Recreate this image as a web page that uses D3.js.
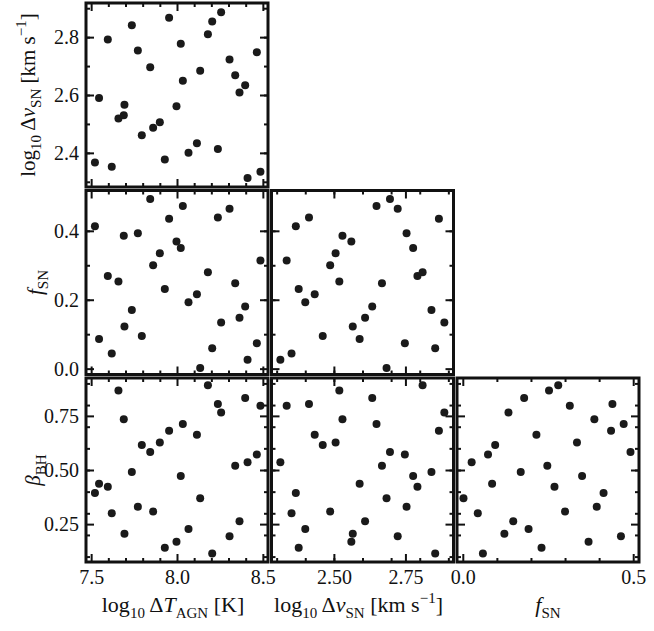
<!DOCTYPE html>
<html>
<head>
<meta charset="utf-8">
<script src="https://cdn.jsdelivr.net/npm/d3@7"></script>
<style>
  body { margin: 0; background: #fff; }
  svg { display: block; }
  text { font-family: "Liberation Serif", "DejaVu Serif", serif; fill: #111; }
</style>
</head>
<body>
<svg id="chart" width="654" height="631"></svg>
<script>
'use strict';

// 32 sample points of the 4 parameters (same point order in every array)
const dT = [7.522, 7.546, 7.597, 7.620, 7.659, 7.690, 7.694, 7.737, 7.772, 7.795, 7.844,
  7.861, 7.900, 7.929, 7.954, 7.997, 8.022, 8.034, 8.067, 8.116, 8.135, 8.180,
  8.205, 8.238, 8.257, 8.306, 8.339, 8.364, 8.397, 8.411, 8.465, 8.486];
const dv = [2.367, 2.590, 2.792, 2.352, 2.519, 2.530, 2.566, 2.841, 2.754, 2.461, 2.696,
  2.487, 2.506, 2.377, 2.867, 2.561, 2.777, 2.649, 2.400, 2.433, 2.684, 2.810,
  2.854, 2.413, 2.886, 2.723, 2.668, 2.609, 2.634, 2.313, 2.748, 2.335];
const fSN = [0.413, 0.086, 0.269, 0.044, 0.253, 0.386, 0.122, 0.170, 0.393, 0.095, 0.492,
  0.300, 0.335, 0.231, 0.435, 0.369, 0.350, 0.472, 0.193, 0.216, 0.002, 0.280,
  0.059, 0.439, 0.134, 0.464, 0.248, 0.148, 0.180, 0.026, 0.074, 0.314];
const beta = [0.394, 0.436, 0.423, 0.300, 0.867, 0.734, 0.205, 0.491, 0.330, 0.616, 0.583,
  0.308, 0.627, 0.141, 0.681, 0.169, 0.472, 0.713, 0.228, 0.663, 0.370, 0.891,
  0.114, 0.805, 0.766, 0.194, 0.520, 0.263, 0.833, 0.536, 0.572, 0.797];

// axis limits and ticks per parameter
const domains = [[7.47, 8.53], [2.282, 2.918], [-0.017, 0.517], [0.075, 0.925]];
const xMajor = [[7.5, 8.0, 8.5], [2.5, 2.75], [0.0, 0.5]];
const yMajor = [null, [2.4, 2.6, 2.8], [0.0, 0.2, 0.4], [0.25, 0.5, 0.75]];
const minorTicks = [
  [7.6, 7.7, 7.8, 7.9, 8.1, 8.2, 8.3, 8.4],
  [2.3, 2.4, 2.5, 2.6, 2.7, 2.8, 2.9],
  [0.1, 0.2, 0.3, 0.4],
  [0.1, 0.2, 0.3, 0.4, 0.5, 0.6, 0.7, 0.8, 0.9]
];
const xFormats = [d3.format('.1f'), d3.format('.2f'), d3.format('.1f')];
const yFormats = [null, d3.format('.1f'), d3.format('.1f'), d3.format('.2f')];
const values = [dT, dv, fSN, beta];

const svg = d3.select('#chart');

// panel geometry
const colX = [86, 271.5, 457], pw = 182;
const rowY = [3, 190.5, 378], ph = 184;

for (let i = 1; i < 4; i++) {
  for (let j = 0; j < i; j++) {
    const x = d3.scaleLinear().domain(domains[j]).range([0, pw]);
    const y = d3.scaleLinear().domain(domains[i]).range([ph, 0]);
    const g = svg.append('g').attr('transform', `translate(${colX[j]},${rowY[i - 1]})`);

    // points
    g.selectAll('circle')
      .data(d3.range(values[0].length))
      .enter()
      .append('circle')
        .attr('cx', k => x(values[j][k]))
        .attr('cy', k => y(values[i][k]))
        .attr('r', 4)
        .style('fill', '#1a1a1a');

    // ticks, pointing inwards on all four sides
    const bottomRow = (i === 3), leftCol = (j === 0);
    const addAxis = (axis, tf, cls) => {
      const a = g.append('g').attr('class', cls).attr('transform', tf).call(axis);
      a.select('.domain').remove();
      a.selectAll('line').attr('stroke', '#111').attr('stroke-width', 2);
      a.selectAll('text').style('font-size', '20px')
        .style('font-family', '"Liberation Serif", "DejaVu Serif", serif');
      return a;
    };

    addAxis(d3.axisBottom(x).tickValues(xMajor[j]).tickSizeInner(-8).tickSizeOuter(0)
      .tickPadding(8).tickFormat(bottomRow ? xFormats[j] : ''), `translate(0,${ph})`, 'xb');
    addAxis(d3.axisTop(x).tickValues(xMajor[j]).tickSizeInner(-8).tickSizeOuter(0)
      .tickFormat(''), 'translate(0,0)', 'xt');
    addAxis(d3.axisBottom(x).tickValues(minorTicks[j]).tickSizeInner(-4).tickSizeOuter(0)
      .tickFormat(''), `translate(0,${ph})`, 'xbm');
    addAxis(d3.axisTop(x).tickValues(minorTicks[j]).tickSizeInner(-4).tickSizeOuter(0)
      .tickFormat(''), 'translate(0,0)', 'xtm');

    addAxis(d3.axisLeft(y).tickValues(yMajor[i]).tickSizeInner(-8).tickSizeOuter(0)
      .tickPadding(7).tickFormat(leftCol ? yFormats[i] : ''), 'translate(0,0)', 'yl');
    addAxis(d3.axisRight(y).tickValues(yMajor[i]).tickSizeInner(-8).tickSizeOuter(0)
      .tickFormat(''), `translate(${pw},0)`, 'yr');
    addAxis(d3.axisLeft(y).tickValues(minorTicks[i]).tickSizeInner(-4).tickSizeOuter(0)
      .tickFormat(''), 'translate(0,0)', 'ylm');
    addAxis(d3.axisRight(y).tickValues(minorTicks[i]).tickSizeInner(-4).tickSizeOuter(0)
      .tickFormat(''), `translate(${pw},0)`, 'yrm');

    // frame
    g.append('rect')
      .attr('width', pw).attr('height', ph)
      .attr('fill', 'none').attr('stroke', '#111').attr('stroke-width', 3);
  }
}

// axis labels, built from tspans so sub/superscripts look like mathtext
function label(sel, parts) {
  parts.forEach(p => {
    const t = sel.append('tspan').text(p.t);
    if (p.it) t.style('font-style', 'italic');
    if (p.sub) t.style('font-size', '15px').attr('dy', 6);
    if (p.sup) t.style('font-size', '15px').attr('dy', -9);
    if (p.back) t.attr('dy', p.back);
  });
}

const dvParts = [
  {t: 'log'}, {t: '10', sub: true}, {t: '\u2009Δ', back: -6}, {t: 'v', it: true},
  {t: 'SN', sub: true}, {t: ' [km s', back: -6}, {t: '−1', sup: true}, {t: ']', back: 9}
];
const dTParts = [
  {t: 'log'}, {t: '10', sub: true}, {t: '\u2009Δ', back: -6}, {t: 'T', it: true},
  {t: 'AGN', sub: true}, {t: ' [K]', back: -6}
];
const fParts = [{t: 'f', it: true}, {t: 'SN', sub: true}];
const bParts = [{t: 'β', it: true}, {t: 'BH', sub: true}];

const xLabY = 612;
label(svg.append('text').attr('x', colX[0] + pw / 2 - 4).attr('y', xLabY)
  .attr('text-anchor', 'middle').style('font-size', '22px'), dTParts);
label(svg.append('text').attr('x', colX[1] + pw / 2 - 4).attr('y', xLabY)
  .attr('text-anchor', 'middle').style('font-size', '22px'), dvParts);
label(svg.append('text').attr('x', colX[2] + pw / 2).attr('y', xLabY)
  .attr('text-anchor', 'middle').style('font-size', '22px'), fParts);

const yLab = [[35, rowY[0] + ph / 2, dvParts], [42, rowY[1] + ph / 2, fParts], [40, rowY[2] + ph / 2, bParts]];
yLab.forEach(([lx, ly, parts]) => {
  label(svg.append('text')
    .attr('transform', `translate(${lx},${ly}) rotate(-90)`)
    .attr('text-anchor', 'middle').style('font-size', '21px'), parts);
});
</script>
</body>
</html>
